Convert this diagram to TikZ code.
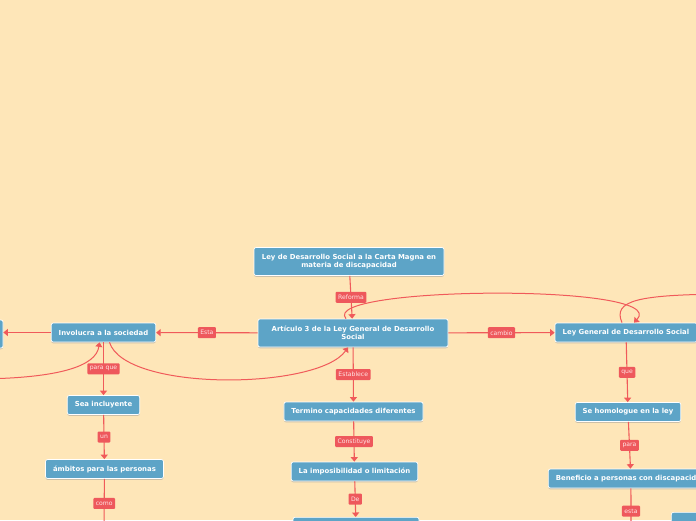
\documentclass[tikz,border=0pt]{standalone}
\usepackage{fontspec}
\setmainfont{DejaVu Sans}
\usetikzlibrary{arrows.meta,positioning,shadows}
\definecolor{bgpeach}{RGB}{254,230,184}
\definecolor{topicblue}{RGB}{93,164,199}
\definecolor{linkred}{RGB}{240,90,90}
\definecolor{labelred}{RGB}{238,88,92}
\definecolor{labeltext}{RGB}{255,228,228}

\begin{document}
\begin{tikzpicture}[x=1pt, y=-1pt,
      topic/.style={draw=white, line width=0.7pt, fill=topicblue, text=white, rounded corners=2pt, font=\fontsize{6.9}{8.4}\selectfont\bfseries, minimum height=19pt, inner xsep=7.5pt, drop shadow={shadow xshift=0pt, shadow yshift=-1.3pt, fill=black!40, opacity=.5}},
      wide/.style={topic, align=center, minimum width=190pt, minimum height=28pt},
      lbl/.style={fill=labelred, text=labeltext, font=\fontsize{6.1}{6.3}\selectfont, rounded corners=1pt, inner xsep=2.5pt, inner ysep=0pt, minimum height=11pt},
      arr/.style={->, >={Triangle[length=4.5pt, width=7pt]}, draw=linkred, line width=1.1pt},
      rel/.style={arr, line width=1pt}
    ]
    \useasboundingbox (0,0) rectangle (696,520);
    \clip (0,0) rectangle (696,520);
    \fill[bgpeach] (0,0) rectangle (696,520);

    \node[wide] (magna) at (349,261.5) {Ley de Desarrollo Social a la Carta Magna en\\materia de discapacidad};
    \node[wide] (art) at (353,333) {Artículo 3 de la Ley General de Desarrollo\\Social};
    \node[topic] (inv) at (103.5,332.5) {Involucra a la sociedad};
    \node[topic, minimum width=120pt, minimum height=28pt] (leftn) at (-57,334) {};
    \node[topic, minimum width=142pt] (leyg) at (626,332.5) {Ley General de Desarrollo Social};
    \node[topic] (sea) at (103.5,405) {Sea incluyente};
    \node[topic] (amb) at (104.5,469) {ámbitos para las personas};
    \node[topic] (term) at (353.5,411.5) {Termino capacidades diferentes};
    \node[topic] (impo) at (354.5,471.5) {La imposibilidad o limitación};
    \node[topic, minimum width=126pt, anchor=north] (bajo) at (356,517) {};
    \node[topic] (homo) at (628,412) {Se homologue en la ley};
    \node[topic, anchor=west] (bene) at (548,478.5) {Beneficio a personas con discapacidad};
    \node[topic, minimum width=60pt, anchor=north west] (esq) at (671,512) {};
    \coordinate (ambfin) at (104,528);
    \coordinate (benefin) at (631,534);
    \coordinate (izqfin) at (-20,379);
    \coordinate (derfin) at (725,294);

    % relaciones curvas
    \draw[rel] ([xshift=-7pt]art.north) .. controls (318,286) and (672,283) .. ([xshift=8pt]leyg.north);
    \draw[rel] ([xshift=-4pt]leyg.north) .. controls (612,300) and (640,295) .. (derfin);
    \draw[rel] ([xshift=6pt]inv.south) .. controls (125,392) and (318,390) .. ([xshift=-5pt]art.south);
    \draw[rel] (izqfin) .. controls (60,378) and (96,366) .. ([xshift=-4pt]inv.south);

    \draw[arr] (magna) -- node[lbl] {Reforma} (art);
    \draw[arr] (art) -- node[lbl] {Esta} (inv); \draw[arr] (inv) -- (leftn.east |- inv);
    \draw[arr] (art) -- node[lbl] {cambio} (leyg);
    \draw[arr] (inv) -- node[lbl] {para que} (sea);
    \draw[arr] (sea) -- node[lbl] {un} (amb);
    \draw[arr] (amb) -- node[lbl] {como} (ambfin);
    \draw[arr] (art) -- node[lbl] {Establece} (term);
    \draw[arr] (term) -- node[lbl] {Constituye} (impo);
    \draw[arr] (impo) -- node[lbl] {De} (bajo);
    \draw[arr] (leyg) -- node[lbl] {que} (homo);
    \draw[arr] (homo) -- node[lbl] {para} (bene);
    \draw[arr] (bene) -- node[lbl] {esta} (benefin);
  \end{tikzpicture}
\end{document}
